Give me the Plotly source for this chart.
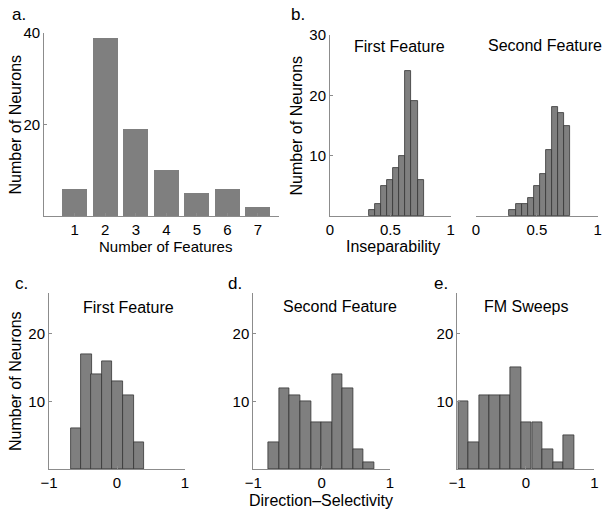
import plotly.graph_objects as go

# ---------------- data ----------------
feat_counts_x = [1, 2, 3, 4, 5, 6, 7]
feat_counts_y = [6, 39, 19, 10, 5, 6, 2]

insep_first_x = [0.35, 0.40, 0.45, 0.50, 0.55, 0.60, 0.65, 0.70, 0.75]
insep_first_y = [1, 2, 5, 6, 8, 10, 24, 19, 6]

insep_second_x = [0.30, 0.35, 0.40, 0.45, 0.50, 0.55, 0.60, 0.65, 0.70, 0.75]
insep_second_y = [1, 2, 2, 3, 5, 7, 11, 18, 17, 15]

ds_first_x = [-0.605, -0.45, -0.30, -0.146, 0.01, 0.166, 0.322]
ds_first_y = [6, 17, 14, 16, 13, 11, 4]

ds_second_x = [-0.698, -0.544, -0.39, -0.234, -0.078, 0.076, 0.229, 0.383, 0.535, 0.688]
ds_second_y = [4, 12, 11, 10, 7, 7, 14, 12, 3, 1]

ds_fm_x = [-0.912, -0.758, -0.605, -0.45, -0.30, -0.146, 0.01, 0.166, 0.322, 0.476, 0.63]
ds_fm_y = [10, 4, 11, 11, 11, 15, 7, 7, 3, 1, 5]

# ---------------- layout helpers ----------------
W, H = 610, 513
def fx(p): return p / W
def fy(p): return 1 - p / H

BAR = "#7f7f7f"
AX = "#8c8c8c"
FONT = "Liberation Sans, Arial, Helvetica, sans-serif"
TICKF = dict(family=FONT, size=15, color="black")

fig = go.Figure()

def add_bars(x, y, xa, ya, width, edge=True):
    fig.add_trace(go.Bar(
        x=x, y=y, width=width, xaxis=xa, yaxis=ya,
        marker=dict(color=BAR, line=dict(color="#333333" if edge else BAR, width=0.8 if edge else 0)),
        showlegend=False, hoverinfo="x+y"))

add_bars(feat_counts_x, feat_counts_y, "x", "y", 0.82, edge=False)
add_bars(insep_first_x, insep_first_y, "x2", "y2", 0.05)
add_bars(insep_second_x, insep_second_y, "x3", "y3", 0.05)
add_bars(ds_first_x, ds_first_y, "x4", "y4", 0.155)
add_bars(ds_second_x, ds_second_y, "x5", "y5", 0.155)
add_bars(ds_fm_x, ds_fm_y, "x6", "y6", 0.155)

def xax(x0, x1, rng, tickvals, ticktext=None, anchor="y"):
    d = dict(domain=[fx(x0), fx(x1)], range=rng, anchor=anchor, automargin=False,
             showline=True, linecolor=AX, linewidth=1, mirror=False,
             ticks="inside", ticklen=3, tickcolor=AX, tickwidth=1,
             tickvals=tickvals, tickfont=TICKF, showgrid=False, zeroline=False,
             fixedrange=True)
    if ticktext is not None:
        d["ticktext"] = ticktext
    return d

def yax(y_top, y_bottom, rng, tickvals, anchor, show=True):
    return dict(domain=[fy(y_bottom), fy(y_top)], range=rng, anchor=anchor, automargin=False,
                showline=show, linecolor=AX, linewidth=1,
                ticks="inside" if show else "", ticklen=3, tickcolor=AX, tickwidth=1,
                tickvals=tickvals if show else [], tickfont=TICKF,
                showticklabels=show, showgrid=False, zeroline=False, fixedrange=True)

fig.update_layout(
    template="none",
    width=W, height=H, margin=dict(l=0, r=0, t=0, b=0, autoexpand=False),
    paper_bgcolor="white", plot_bgcolor="white", bargap=0,
    font=dict(family=FONT, size=16, color="black"),
    xaxis=xax(44.2, 279.3, [0, 7.7], feat_counts_x, anchor="y"),
    yaxis=yax(33, 216, [0, 40], [20, 40], "x"),
    xaxis2=xax(330, 450.7, [0, 1], [0, 0.5, 1], ["0", "0.5", "1"], anchor="y2"),
    yaxis2=yax(35, 216, [0, 30], [10, 20, 30], "x2"),
    xaxis3=xax(476, 597.7, [0, 1], [0, 0.5, 1], ["0", "0.5", "1"], anchor="y3"),
    yaxis3=yax(35, 216, [0, 30], [10, 20, 30], "x3", show=False),
    xaxis4=xax(49, 185, [-1, 1], [-1, 0, 1], anchor="y4"),
    yaxis4=yax(293.3, 469.3, [0, 26], [10, 20], "x4"),
    xaxis5=xax(253.3, 390, [-1, 1], [-1, 0, 1], anchor="y5"),
    yaxis5=yax(293.3, 469.3, [0, 26], [10, 20], "x5"),
    xaxis6=xax(457.3, 594.3, [-1, 1], [-1, 0, 1], anchor="y6"),
    yaxis6=yax(293.3, 469.3, [0, 26], [10, 20], "x6"),
)

def note(text, x, y, size=16, angle=0, xanchor="center"):
    fig.add_annotation(text=text, x=fx(x), y=fy(y), xref="paper", yref="paper",
                       showarrow=False, textangle=angle, xanchor=xanchor, yanchor="middle",
                       font=dict(family=FONT, size=size, color="black"))

# panel letters
note("a.", 10, 15, size=17, xanchor="left")
note("b.", 289, 15, size=17, xanchor="left")
note("c.", 13, 283, size=17, xanchor="left")
note("d.", 226, 283, size=17, xanchor="left")
note("e.", 432, 283, size=17, xanchor="left")

# axis titles
note("Number of Neurons", 15, 124.5, angle=-90)
note("Number of Features", 165, 246, size=15)
note("Number of Neurons", 296, 125.5, angle=-90)
note("Inseparability", 393, 246)
note("Number of Neurons", 15, 381, angle=-90)
note("Direction\u2013Selectivity", 321, 500)

# subplot titles
note("First Feature", 400, 46)
note("Second Feature", 545, 45)
note("First Feature", 128, 307)
note("Second Feature", 340, 306)
note("FM Sweeps", 526, 306)

fig.write_html(
    "out.html",
    config={"displayModeBar": False},
    post_script="document.body.style.margin='0';document.body.style.padding='0';"
                "document.body.style.overflow='hidden';",
)
